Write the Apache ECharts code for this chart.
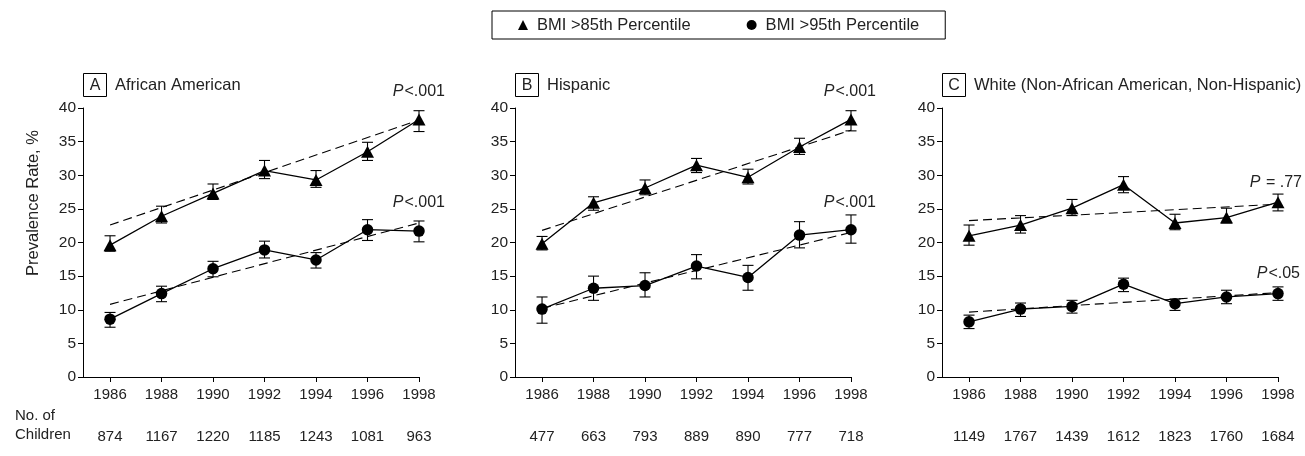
<!DOCTYPE html>
<html>
<head>
<meta charset="utf-8">
<script src="https://cdn.jsdelivr.net/npm/echarts@6/dist/echarts.min.js"></script>
<style>
html,body{margin:0;padding:0;background:#fff;}
#chart{width:1305px;height:456px;}
</style>
</head>
<body>
<div id="chart"></div>
<script>
// ---- data ----
const years = [1986, 1988, 1990, 1992, 1994, 1996, 1998];
const trendYears = [1986, 1998];
const legendNames = ['BMI >85th Percentile', 'BMI >95th Percentile'];

const panelLetters = ['A', 'B', 'C'];
const panelTitles = ['African American', 'Hispanic', 'White (Non-African American, Non-Hispanic)'];

// Panel A
const A85 = [19.6, 23.9, 27.3, 30.7, 29.3, 33.5, 38.3];
const A85hi = [21.0, 25.4, 28.7, 32.2, 30.7, 34.9, 39.6];
const A85lo = [18.7, 22.9, 26.4, 29.5, 28.2, 32.2, 36.5];
const A95 = [8.6, 12.4, 16.1, 18.9, 17.4, 21.9, 21.7];
const A95hi = [9.6, 13.5, 17.2, 20.2, 18.5, 23.4, 23.2];
const A95lo = [7.4, 11.2, 14.9, 17.7, 16.2, 20.3, 20.1];
const A85trend = [22.6, 38.2];
const A95trend = [10.8, 22.9];
const nA = [874, 1167, 1220, 1185, 1243, 1081, 963];
const pA = ['<.001', '<.001'];

// Panel B
const B85 = [19.8, 25.9, 28.1, 31.5, 29.7, 34.2, 38.3];
const B85hi = [20.9, 26.8, 29.3, 32.5, 30.9, 35.5, 39.6];
const B85lo = [18.9, 24.8, 27.1, 30.4, 28.7, 33.1, 36.6];
const B95 = [10.1, 13.2, 13.6, 16.5, 14.8, 21.1, 21.9];
const B95hi = [11.9, 15.0, 15.5, 18.2, 16.6, 23.1, 24.1];
const B95lo = [8.0, 11.4, 11.9, 14.6, 12.9, 19.2, 19.9];
const B85trend = [21.8, 36.7];
const B95trend = [10.2, 21.5];
const nB = [477, 663, 793, 889, 890, 777, 718];
const pB = ['<.001', '<.001'];

// Panel C
const C85 = [21.0, 22.6, 25.1, 28.6, 22.9, 23.7, 26.0];
const C85hi = [22.6, 24.0, 26.4, 29.8, 24.2, 25.1, 27.2];
const C85lo = [19.6, 21.4, 24.0, 27.4, 21.9, 22.9, 24.7];
const C95 = [8.2, 10.1, 10.5, 13.8, 10.9, 11.9, 12.4];
const C95hi = [9.2, 11.0, 11.4, 14.7, 11.6, 12.9, 13.4];
const C95lo = [7.2, 9.0, 9.5, 12.7, 9.9, 10.9, 11.4];
const C85trend = [23.25, 25.7];
const C95trend = [9.65, 12.55];
const nC = [1149, 1767, 1439, 1612, 1823, 1760, 1684];
const pC = [' = .77', '<.05'];

// ---- build ----
const panels = [
  {v85: A85, hi85: A85hi, lo85: A85lo, v95: A95, hi95: A95hi, lo95: A95lo, t85: A85trend, t95: A95trend, n: nA, p: pA},
  {v85: B85, hi85: B85hi, lo85: B85lo, v95: B95, hi95: B95hi, lo95: B95lo, t85: B85trend, t95: B95trend, n: nB, p: pB},
  {v85: C85, hi85: C85hi, lo85: C85lo, v95: C95, hi95: C95hi, lo95: C95lo, t85: C85trend, t95: C95trend, n: nC, p: pC}
];

const gridLefts = [83, 515, 942];
const GW = 336, GT = 108, GH = 269;
const TXT = '#222';
const FONT = '"Liberation Sans", Arial, Helvetica, sans-serif';

const grids = [], xAxes = [], yAxes = [], series = [];

function errRender(params, api) {
  const x = api.value(0);
  const top = api.coord([x, api.value(1)]);
  const bot = api.coord([x, api.value(2)]);
  const cw = 5.5;
  const st = {stroke: '#000', lineWidth: 1.1};
  return {
    type: 'group',
    children: [
      {type: 'line', shape: {x1: top[0], y1: top[1], x2: bot[0], y2: bot[1]}, style: st},
      {type: 'line', shape: {x1: top[0] - cw, y1: top[1], x2: top[0] + cw, y2: top[1]}, style: st},
      {type: 'line', shape: {x1: bot[0] - cw, y1: bot[1], x2: bot[0] + cw, y2: bot[1]}, style: st}
    ]
  };
}

panels.forEach((p, i) => {
  grids.push({left: gridLefts[i], top: GT, width: GW, height: GH});
  xAxes.push({
    type: 'value', gridIndex: i, min: 1984.95, max: 1998,
    axisLine: {show: true, lineStyle: {color: '#000', width: 1}},
    axisTick: {show: true, customValues: years, length: 5, lineStyle: {color: '#000'}},
    axisLabel: {customValues: years, formatter: v => String(v), fontSize: 15, color: TXT, margin: 10, fontFamily: FONT},
    splitLine: {show: false}
  });
  const counts = p.n;
  xAxes.push({
    type: 'value', gridIndex: i, min: 1984.95, max: 1998, position: 'bottom', offset: 42,
    axisLine: {show: false}, axisTick: {show: false},
    axisLabel: {customValues: years, formatter: v => String(counts[years.indexOf(v)]), fontSize: 15, color: TXT, margin: 10, fontFamily: FONT},
    splitLine: {show: false}
  });
  yAxes.push({
    type: 'value', gridIndex: i, min: 0, max: 40, interval: 5,
    axisLine: {show: true, lineStyle: {color: '#000', width: 1}},
    axisTick: {show: true, length: 5, lineStyle: {color: '#000'}},
    axisLabel: {fontSize: 15.5, color: TXT, margin: 7, fontFamily: FONT},
    splitLine: {show: false}
  });
  const xi = i * 2;
  [p.t85, p.t95].forEach((t, k) => {
    series.push({
      type: 'line', name: 'trend' + k, xAxisIndex: xi, yAxisIndex: i,
      data: trendYears.map((y, j) => [y, t[j]]),
      symbol: 'none', silent: true, z: 1,
      lineStyle: {color: '#000', width: 1.1, type: [9, 5]}
    });
  });
  [[p.hi85, p.lo85], [p.hi95, p.lo95]].forEach((e, k) => {
    series.push({
      type: 'custom', name: 'err' + k, xAxisIndex: xi, yAxisIndex: i, z: 2, silent: true,
      renderItem: errRender,
      encode: {x: 0, y: [1, 2]},
      data: years.map((y, j) => [y, e[0][j], e[1][j]])
    });
  });
  series.push({
    type: 'line', name: legendNames[0], xAxisIndex: xi, yAxisIndex: i, z: 3,
    data: years.map((y, j) => [y, p.v85[j]]),
    symbol: 'triangle', symbolSize: [13, 12], showSymbol: true,
    itemStyle: {color: '#000'}, lineStyle: {color: '#000', width: 1.3}
  });
  series.push({
    type: 'line', name: legendNames[1], xAxisIndex: xi, yAxisIndex: i, z: 3,
    data: years.map((y, j) => [y, p.v95[j]]),
    symbol: 'circle', symbolSize: 11.5, showSymbol: true,
    itemStyle: {color: '#000'}, lineStyle: {color: '#000', width: 1.3}
  });
});

const graphic = [];
panelLetters.forEach((L, i) => {
  const x0 = gridLefts[i];
  graphic.push({type: 'rect', shape: {x: x0 + 0.5, y: 73.5, width: 23, height: 23},
    style: {fill: 'none', stroke: '#000', lineWidth: 1}});
  graphic.push({type: 'text', x: x0 + 12, y: 85.5,
    style: {text: L, fontSize: 16, fill: TXT, align: 'center', verticalAlign: 'middle', fontFamily: FONT}});
  graphic.push({type: 'text', x: x0 + 32, y: 85,
    style: {text: panelTitles[i], fontSize: 16.5, fill: TXT, align: 'left', verticalAlign: 'middle', fontFamily: FONT}});
});
const pPos = [
  [[445, 92], [445, 203]],
  [[876, 92], [876, 203]],
  [[1302, 183], [1300, 274]]
];
panels.forEach((p, i) => {
  p.p.forEach((s, k) => {
    graphic.push({type: 'text', x: pPos[i][k][0], y: pPos[i][k][1],
      style: {
        text: '{i|P}{n|' + s + '}',
        align: 'right', verticalAlign: 'middle',
        rich: {
          i: {fontStyle: 'italic', fontSize: 16, fill: TXT, fontFamily: FONT, padding: [0, 1, 0, 0]},
          n: {fontSize: 16, fill: TXT, fontFamily: FONT}
        }
      }});
  });
});
graphic.push({type: 'text', x: 33, y: 203, rotation: Math.PI / 2,
  style: {text: 'Prevalence Rate, %', fontSize: 16.5, fill: TXT, align: 'center', verticalAlign: 'middle', fontFamily: FONT}});
graphic.push({type: 'text', x: 15, y: 416,
  style: {text: 'No. of', fontSize: 15, fill: TXT, align: 'left', verticalAlign: 'middle', fontFamily: FONT}});
graphic.push({type: 'text', x: 15, y: 435,
  style: {text: 'Children', fontSize: 15, fill: TXT, align: 'left', verticalAlign: 'middle', fontFamily: FONT}});

const chart = echarts.init(document.getElementById('chart'), null, {renderer: 'canvas'});
chart.setOption({
  animation: false,
  backgroundColor: '#fff',
  textStyle: {fontFamily: FONT},
  legend: {
    left: 492, top: 11,
    borderColor: '#000', borderWidth: 1,
    padding: [5, 26, 5, 26],
    itemGap: 56, itemWidth: 10, itemHeight: 10,
    data: [{name: legendNames[0], icon: 'triangle'}, {name: legendNames[1], icon: 'circle'}],
    textStyle: {fontSize: 16.5, color: TXT, lineHeight: 18, padding: [0, 0, 0, 4], fontFamily: FONT},
    selectedMode: false
  },
  grid: grids,
  xAxis: xAxes,
  yAxis: yAxes,
  series: series,
  graphic: graphic
});
</script>
</body>
</html>
